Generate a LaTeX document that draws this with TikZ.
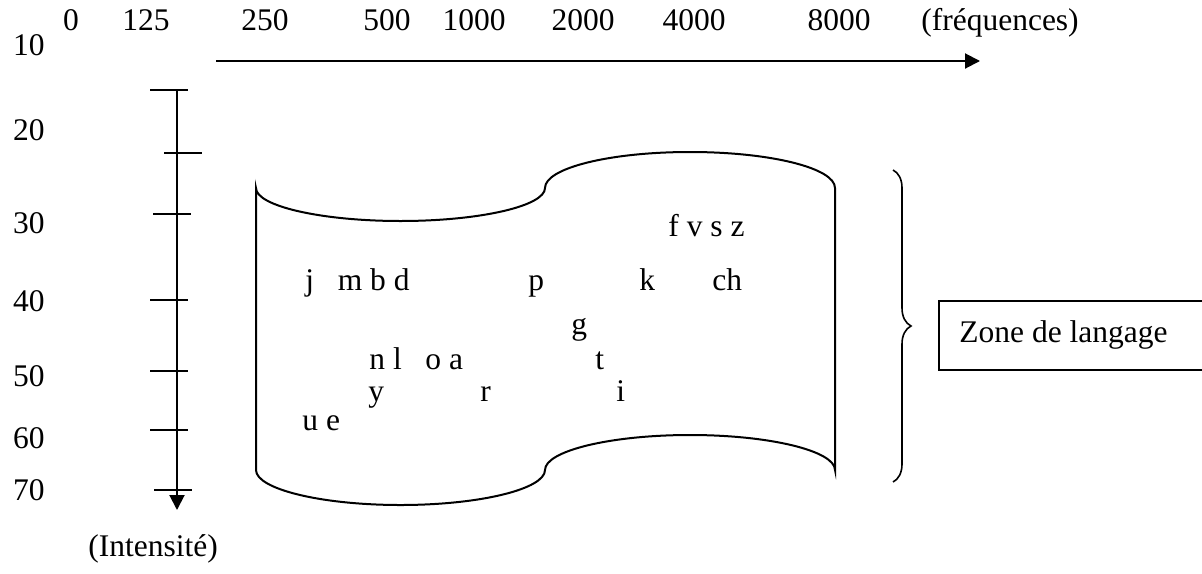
\documentclass[tikz,border=0pt]{standalone}
\usepackage{fontspec}
\setmainfont{Liberation Serif}
\usetikzlibrary{arrows.meta,decorations.pathreplacing}
\begin{document}
\begin{tikzpicture}[x=0.5pt,y=-0.5pt,
  lab/.style={inner sep=0pt, font=\fontsize{15.75}{19}\selectfont},
  axisline/.style={line width=1pt, -{Triangle[length=7.5pt,width=7.5pt]}},
  tickline/.style={line width=1pt},
  outline/.style={line width=1pt},
  bracestyle/.style={line width=0.8pt, decorate, decoration={brace, amplitude=9pt}}]
\useasboundingbox (0,0) rectangle (1202,573);

% frequency labels
\node[lab, anchor=base] (f0) at (71,30) {0};
\node[lab, anchor=base] (f125) at (146,30) {125};
\node[lab, anchor=base] (f250) at (265,30) {250};
\node[lab, anchor=base] (f500) at (387,30) {500};
\node[lab, anchor=base] (f1000) at (474,30) {1000};
\node[lab, anchor=base] (f2000) at (583,30) {2000};
\node[lab, anchor=base] (f4000) at (694,30) {4000};
\node[lab, anchor=base] (f8000) at (839,30) {8000};
\node[lab, anchor=base] (ffreq) at (1000,30) {(fréquences)};

% intensity labels
\node[lab, anchor=base] (i10) at (29,55) {10};
\node[lab, anchor=base] (i20) at (29,140) {20};
\node[lab, anchor=base] (i30) at (29,233) {30};
\node[lab, anchor=base] (i40) at (29,311) {40};
\node[lab, anchor=base] (i50) at (29,386) {50};
\node[lab, anchor=base] (i60) at (29,448) {60};
\node[lab, anchor=base] (i70) at (29,500) {70};
\node[lab, anchor=base] (intens) at (153,556) {(Intensité)};

% axes
\coordinate (hs) at (216,61);
\coordinate (he) at (980,61);
\draw[axisline] (hs) -- (he);
\coordinate (vs) at (177,90);
\coordinate (ve) at (177,510);
\draw[axisline] (vs) -- (ve);

% ticks
\coordinate (t1a) at (150,90);  \coordinate (t1b) at (188,90);
\coordinate (t2a) at (164,153); \coordinate (t2b) at (202,153);
\coordinate (t3a) at (153,214); \coordinate (t3b) at (191,214);
\coordinate (t4a) at (150,300); \coordinate (t4b) at (188,300);
\coordinate (t5a) at (150,371); \coordinate (t5b) at (188,371);
\coordinate (t6a) at (150,430); \coordinate (t6b) at (188,430);
\coordinate (t7a) at (154,490); \coordinate (t7b) at (192,490);
\foreach \t in {1,...,7} \draw[tickline] (t\t a) -- (t\t b);

% wave (language zone)
\draw[outline] (256,188) .. controls (256,206) and (321,221) .. (400.5,221)
  .. controls (480,221) and (545,206) .. (545,188)
  .. controls (545,168) and (610,152) .. (690,152)
  .. controls (770,152) and (835,168) .. (835,188)
  -- (835,470)
  .. controls (835,451) and (770,435) .. (690,435)
  .. controls (610,435) and (545,451) .. (545,470)
  .. controls (545,489) and (480,505) .. (400.5,505)
  .. controls (321,505) and (256,489) .. (256,470) -- cycle;

% phonemes
\node[lab, anchor=base west] (s1) at (668,236) {f v s z};
\node[lab, anchor=base west] (s2) at (305,290) {j\ \ \ m b d};
\node[lab, anchor=base west] (s3) at (528,290) {p};
\node[lab, anchor=base west] (s4) at (639,290) {k};
\node[lab, anchor=base west] (s5) at (712,290) {ch};
\node[lab, anchor=base west] (s6) at (571,334) {g};
\node[lab, anchor=base west] (s7) at (369,369) {n l\ \ \ o a};
\node[lab, anchor=base west] (s8) at (595,369) {t};
\node[lab, anchor=base west] (s9) at (368,401) {y};
\node[lab, anchor=base west] (s10) at (480,401) {r};
\node[lab, anchor=base west] (s11) at (616,401) {i};
\node[lab, anchor=base west] (s12) at (302,430) {u e};

% brace and box
\coordinate (bra) at (893,170);
\coordinate (brb) at (893,482);
\draw[bracestyle] (bra) -- (brb);
\node[draw, line width=1pt, inner sep=0pt, anchor=north west,
  minimum width=136pt, minimum height=34.5pt] (zone) at (938,300) {};
\node[lab, anchor=base west] (zonetxt) at (959,342) {Zone de langage};
\end{tikzpicture}
\end{document}
